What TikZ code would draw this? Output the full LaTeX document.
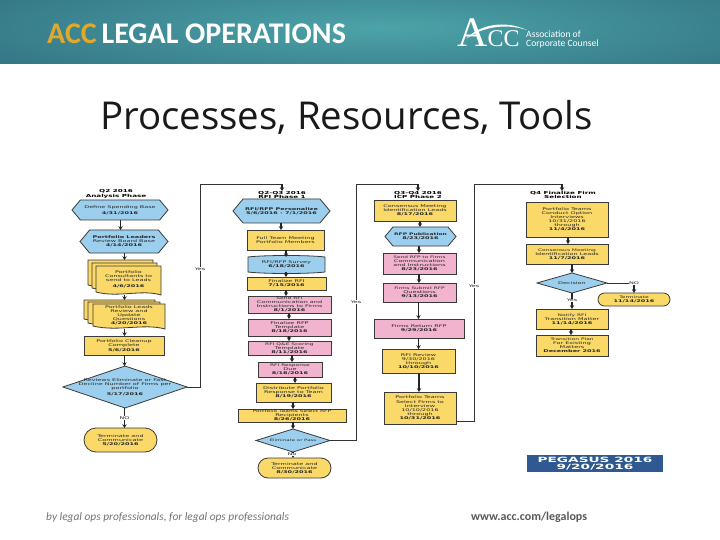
\documentclass[tikz,border=0pt]{standalone}
\usepackage{fontspec}
\setmainfont{DejaVu Sans}
\newfontfamily\carlito{Carlito}
\newfontfamily\openS{Open Sans}
\newfontfamily\serifL{Liberation Serif}
\newfontfamily\widef[FakeStretch=1.75]{DejaVu Sans}
\newfontfamily\pegf[FakeStretch=1.9]{DejaVu Sans}
\usetikzlibrary{shapes.geometric,shapes.misc,shapes.symbols,arrows.meta}
\definecolor{cblue}{HTML}{9CCFEE}
\definecolor{cyell}{HTML}{FBD968}
\definecolor{cpink}{HTML}{F2B3CF}
\definecolor{cline}{HTML}{3A3A3A}
\definecolor{gold}{HTML}{E0A92E}
\definecolor{tealA}{HTML}{4CA3A8}
\definecolor{tealB}{HTML}{2C6679}
\definecolor{peg}{HTML}{2F5A91}
\tikzset{
 base/.style={draw=cline,line width=.8pt,inner sep=0pt,outer sep=0pt},
 yrect/.style={base,rectangle,fill=cyell},
 prect/.style={base,rectangle,fill=cpink},
 hexa/.style={base,signal,signal to=west and east,signal pointer angle=100,fill=cblue},
 dia/.style={base,diamond,fill=cblue},
 termi/.style={base,rounded rectangle,fill=cyell},
 ghost/.style={rectangle,inner sep=0pt,outer sep=0pt},
 txt/.style={align=center,inner sep=0pt,font=\widef\fontsize{3.7}{4.1}\selectfont,text=black!85},
 lbl/.style={align=center,inner sep=.4pt,font=\widef\fontsize{3.7}{4.1}\selectfont,text=black!85,fill=white},
 ttl/.style={align=center,inner sep=0pt,font=\widef\fontsize{4.1}{4.4}\selectfont\bfseries,text=black},
 arr/.style={draw=black!85,line width=1.05pt,-{Stealth[length=3.8pt,width=4.4pt]}},
 lin/.style={draw=black!80,line width=.85pt},
}
% \bx{name}{style}{x1}{y1}{x2}{y2}{text}
\newcommand{\bx}[7]{%
 \node[#2,minimum width={(#5-#3)*1pt},minimum height={(#6-#4)*1pt}] (#1) at ({(#3+#5)/2},{(#4+#6)/2}) {};
 \node[txt] (#1t) at (#1) {#7};}
% wavy document outline
\newcommand{\wavy}[4]{%
 \draw[base,fill=cyell] (#1,#2) -- (#3,#2) -- (#3,#4)
  .. controls ({#1+(#3-#1)*.7},{#4-6}) and ({#1+(#3-#1)*.35},{#4+3}) .. (#1,{#4-3}) -- cycle;}
% \conn{a}{b}{x}: vertical arrow at column x between two nodes
\newcommand{\conn}[3]{%
 \coordinate (colx) at (#3,0);
 \draw[arr] (#1.south -| colx) -- (#2.north -| colx);}
\begin{document}
\begin{tikzpicture}[x=1pt,y=-1pt]
\useasboundingbox (0,0) rectangle (720,540);
\fill[white] (0,0) rectangle (720,540);
% header band
\begin{scope}
 \clip (0,0) rectangle (720,64);
 \shade[inner color=tealA,outer color=tealB] (380,28) ellipse (620 and 85);
\end{scope}
\node[inner sep=0pt,anchor=base west] (brand) at (47,43.5) {\carlito\bfseries\fontsize{30}{30}\selectfont\textcolor{gold}{ACC}\kern-1pt\ \kern-1pt\textcolor{white}{LEGAL OPERATIONS}};
% ACC logo
\node[inner sep=0pt,anchor=base west,text=white] (logoa) at (457,47) {\serifL\fontsize{42}{42}\selectfont A\fontsize{24}{24}\selectfont CC};
\fill[white] (466,39) .. controls (480,24) and (505,20) .. (527,30) .. controls (505,23) and (482,27) .. (466,39) -- cycle;
\node[inner sep=0pt,anchor=base west,text=white] (logot) at (526,38) {\carlito\fontsize{9.6}{10}\selectfont Association of};
\node[inner sep=0pt,anchor=base west,text=white] (logou) at (526,47) {\carlito\fontsize{9.6}{10}\selectfont Corporate Counsel};
% title
\node[inner sep=0pt,anchor=base west,text=black!90] (title) at (100,130) {\openS\fontsize{38.4}{38}\selectfont Processes, Resources, Tools};
% footer
\node[inner sep=0pt,anchor=base west,text=black!55] (foot1) at (46,520) {\carlito\itshape\fontsize{11.4}{11}\selectfont by legal ops professionals, for legal ops professionals};
\node[inner sep=0pt,anchor=base west,text=black!65] (foot2) at (471,520) {\carlito\bfseries\fontsize{12}{12}\selectfont www.acc.com/legalops};
% ---------- column 1
\node[ttl] (t1) at (116,194) {Q2 2016\\Analysis Phase};
\bx{a1}{hexa}{72}{200}{168}{220}{Define Spending Base\\[2pt]\textbf{4/31/2016}}
\bx{a2}{hexa}{80}{230}{168}{253}{\textbf{Portfolio Leaders}\\Review Board Base\\\textbf{4/14/2016}}
\wavy{88}{260}{153}{288}\wavy{92}{263}{157}{291}\wavy{96}{266}{161}{295}
\node[ghost,minimum width=73pt,minimum height=35pt] (d1) at (124.5,277.5) {};
\node[txt] (d1t) at (128.5,279) {Portfolio\\Consultants to\\send to Leads\\[2pt]\textbf{4/6/2016}};
\wavy{84}{300}{155}{322}\wavy{88}{302}{160}{326}\wavy{93}{304}{165}{329}
\node[ghost,minimum width=81pt,minimum height=29pt] (d2) at (124.5,314.5) {};
\node[txt] (d2t) at (129,315.5) {Portfolio Leads\\Review and\\Update\\Questions\\\textbf{4/20/2016}};
\bx{a3}{yrect}{84}{336}{164}{355}{Portfolio Cleanup\\Complete\\[1pt]\textbf{5/6/2016}}
\bx{a4}{dia}{63}{366}{187}{408}{Reviews Eliminate or Fast\\Decline Number of Firms per\\portfolio\\[2pt]\textbf{5/17/2016}}
\bx{a5}{termi}{84}{428}{157}{452}{Terminate and\\Communicate\\\textbf{5/20/2016}}
\conn{a1}{a2}{120.5}
\conn{a2}{d1}{124.5}
\conn{d1}{d2}{124.5}
\conn{d2}{a3}{124.5}
\conn{a3}{a4}{124.5}
\conn{a4}{a5}{124.5}
\node[lbl] (no1) at (124.5,418) {NO};
% ---------- column 2
\node[ttl] (t2) at (282,195) {Q2-Q3 2016\\RFI Phase 1};
\bx{b1}{hexa}{233}{199}{330}{223}{\textbf{RFI/RFP Personalize}\\\textbf{5/6/2016 - 7/1/2016}}
\bx{b2}{yrect}{247}{230}{324}{250}{Full Team Meeting\\Portfolio Members}
\node[ghost,minimum width=77pt,minimum height=15pt] (b3) at (286.5,264.5) {};
\draw[base,fill=cblue] (b3.north west) .. controls (265,255) and (308,255) .. (b3.north east) -- (b3.south east) .. controls (308,274) and (265,274) .. (b3.south west) -- cycle;
\node[txt] (b3t) at (b3) {RFI/RFP Survey\\\textbf{6/18/2016}};
\bx{b4}{yrect}{247}{277}{326}{290}{Finalize RFI\\\textbf{7/15/2016}}
\bx{b5}{prect}{248}{296}{331}{313}{\fontsize{3.4}{3.7}\selectfont Send RFI\\Communication and\\Instructions to Firms\\\textbf{8/1/2016}}
\bx{b6}{prect}{248}{319}{331}{336}{Finalize RFP\\Template\\\textbf{8/18/2016}}
\bx{b7}{prect}{248}{341}{331}{355}{\fontsize{3.4}{3.8}\selectfont RFI Q\&E Scoring\\Template\\\textbf{8/11/2016}}
\bx{b8}{prect}{258}{362}{322}{377}{\fontsize{3.4}{3.9}\selectfont RFI Response\\Due\\\textbf{8/18/2016}}
\bx{b9}{yrect}{256}{383}{331}{402}{Distribute Portfolio\\Response to Team\\\textbf{8/19/2016}}
\bx{b10}{yrect}{238}{409}{346}{422}{\fontsize{3.4}{3.7}\selectfont Portfolio Teams Select RFP\\Recipients\\\textbf{8/26/2016}}
\bx{b11}{dia}{256}{429}{330}{452}{\fontsize{3.1}{4}\selectfont Eliminate or Pass}
\bx{b12}{termi}{258}{458}{331}{478}{Terminate and\\Communicate\\\textbf{8/30/2016}}
\conn{b1}{b2}{281}
\conn{b2}{b3}{286}
\conn{b3}{b4}{286}
\conn{b4}{b5}{286}
\conn{b5}{b6}{289}
\conn{b6}{b7}{289}
\conn{b7}{b8}{292}
\conn{b8}{b9}{295}
\conn{b9}{b10}{293}
\conn{b10}{b11}{293}
\conn{b11}{b12}{293}
\node[lbl] (no2) at (292,454.5) {No};
% ---------- column 3
\node[ttl] (t3) at (418,195) {Q3-Q4 2016\\ICP Phase 2};
\bx{c1}{yrect}{374}{200}{456}{221}{Consensus Meeting\\Identification Leads\\\textbf{8/17/2016}}
\bx{c2}{hexa}{385}{227}{456}{246}{\textbf{\fontsize{3.4}{4}\selectfont RFP Publication}\\\textbf{8/23/2016}}
\bx{c3}{prect}{383}{253}{456}{274}{\fontsize{3.3}{4}\selectfont Send RFP to Firms\\Communication\\and Instructions\\\textbf{8/23/2016}}
\bx{c4}{prect}{383}{283}{456}{302}{\fontsize{3.3}{4}\selectfont Firms Submit RFP\\Questions\\\textbf{9/13/2016}}
\bx{c5}{prect}{374}{319}{464}{338}{Firms Return RFP\\\textbf{9/29/2016}}
\bx{c6}{yrect}{382}{349}{455}{373}{RFI Review\\9/30/2016\\through\\\textbf{10/10/2016}}
\bx{c7}{yrect}{384}{392}{456}{424}{Portfolio Teams\\Select Firms to\\Interview\\10/10/2016\\through\\\textbf{10/31/2016}}
\conn{c1}{c2}{420}
\conn{c2}{c3}{419}
\conn{c3}{c4}{419}
\conn{c4}{c5}{418.5}
\conn{c5}{c6}{418.5}
\conn{c6}{c7}{419}
% ---------- column 4
\node[ttl] (t4) at (563,195) {Q4 Finalize Firm\\Selection};
\bx{d5}{yrect}{526}{202}{608}{237}{Portfolio Teams\\Conduct Option\\Interviews\\10/31/2016\\through\\\textbf{11/4/2016}}
\bx{d6}{yrect}{526}{244}{608}{264}{\fontsize{3.4}{4}\selectfont Consensus Meeting\\Identification Leads\\\textbf{11/7/2016}}
\bx{d7}{dia}{537}{273}{607}{293}{Decision}
\bx{d8}{termi}{598}{293}{670}{306}{\fontsize{3.4}{4}\selectfont Terminate\\\textbf{11/14/2016}}
\bx{d9}{yrect}{536}{309}{608}{329}{\fontsize{3.4}{4}\selectfont Notify RFI\\Transition Matter\\\textbf{11/14/2016}}
\bx{d10}{yrect}{536}{335}{608}{356}{\fontsize{3.4}{4}\selectfont Transition Plan\\For Existing\\Matters\\\textbf{December 2016}}
\conn{d5}{d6}{568}
\conn{d6}{d7}{572}
\conn{d7}{d9}{572}
\conn{d9}{d10}{571}
\node[lbl] (y4) at (572,300.5) {Yes};
\coordinate (nc) at (634,0);
\draw[lin] (d7.east) -- (d7.east -| nc);
\draw[arr] (d7.east -| nc) -- (d8.north -| nc);
\node[lbl] (n4) at (634,283) {NO};
% ---------- feedback loops
\coordinate (la) at (200,0);
\coordinate (ta) at (282,184);
\draw[lin] (a4.east) -- (a4.east -| la) -- (ta -| la) -- (ta);
\draw[arr] (ta) -- (t2.north -| ta);
\node[lbl] (y1) at (200,269) {Yes};
\coordinate (lb) at (356,0);
\coordinate (tb) at (418,184);
\draw[lin] (b11.east) -- (b11.east -| lb) -- (tb -| lb) -- (tb);
\draw[arr] (tb) -- (t3.north -| tb);
\node[lbl] (y2) at (356,302) {Yes};
\coordinate (lc) at (474,0);
\coordinate (tc) at (562,184);
\coordinate (lc0) at (0,421);
\draw[lin] (c7.east |- lc0) -- (lc0 -| lc) -- (tc -| lc) -- (tc);
\draw[arr] (tc) -- (t4.north -| tc);
\node[lbl] (y3) at (474,286) {Yes};
% ---------- pegasus
\node[ghost,fill=peg,minimum width=136pt,minimum height=17pt] (pg) at (595,463.5) {};
\node[align=center,inner sep=0pt,text=white,font=\pegf\fontsize{7.2}{7.6}\selectfont\bfseries] (pgt) at (pg) {PEGASUS 2016\\9/20/2016};
\end{tikzpicture}
\end{document}
